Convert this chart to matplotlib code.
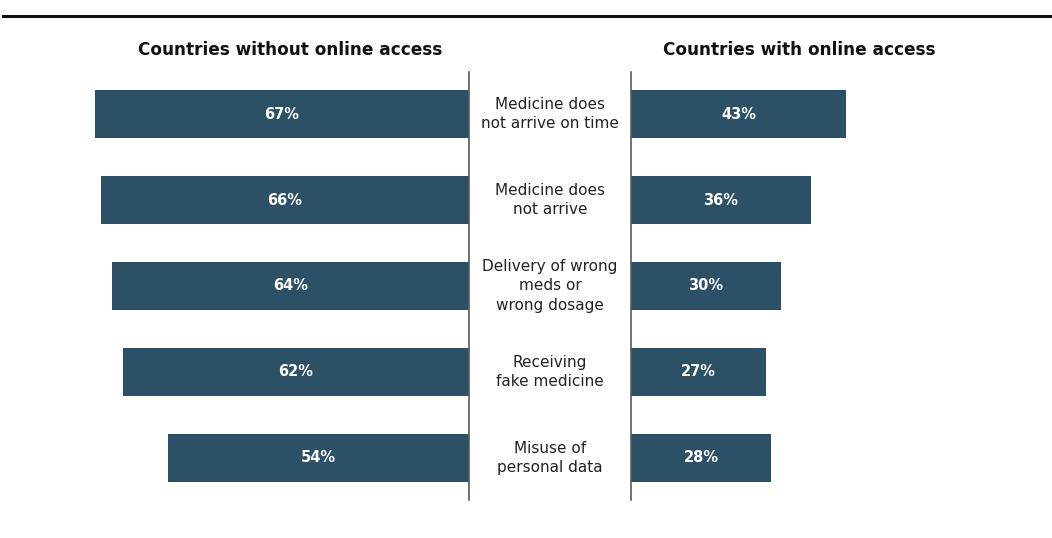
import matplotlib.pyplot as plt
from matplotlib.lines import Line2D

categories = ['Medicine does\nnot arrive on time', 'Medicine does\nnot arrive',
              'Delivery of wrong\nmeds or\nwrong dosage', 'Receiving\nfake medicine',
              'Misuse of\npersonal data']
without_online = [67, 66, 64, 62, 54]
with_online = [43, 36, 30, 27, 28]

bar_color = '#2c5066'
spine_color = '#595959'

plt.rcParams['font.family'] = 'DejaVu Sans'

W, H = 1052, 538
fig = plt.figure(figsize=(W / 100, H / 100), dpi=100)

# pixel layout
y_top, y_bot = 72, 500
left_x0, left_x1 = 40, 469
right_x0, right_x1 = 631, 1020
left_scale = 5.58   # px per %
right_scale = 5.0

ax_l = fig.add_axes([left_x0 / W, 1 - y_bot / H, (left_x1 - left_x0) / W, (y_bot - y_top) / H])
ax_r = fig.add_axes([right_x0 / W, 1 - y_bot / H, (right_x1 - right_x0) / W, (y_bot - y_top) / H])

ypos = list(range(len(categories)))
ax_l.barh(ypos, without_online, height=0.55, color=bar_color)
ax_r.barh(ypos, with_online, height=0.55, color=bar_color)

ax_l.set_xlim((left_x1 - left_x0) / left_scale, 0)
ax_r.set_xlim(0, (right_x1 - right_x0) / right_scale)
for ax in (ax_l, ax_r):
    ax.set_ylim(4.49, -0.49)
    ax.set_xticks([])
    ax.set_yticks([])
    for s in ax.spines.values():
        s.set_visible(False)
ax_l.spines['right'].set_visible(True)
ax_l.spines['right'].set_color(spine_color)
ax_l.spines['right'].set_linewidth(1.2)
ax_r.spines['left'].set_visible(True)
ax_r.spines['left'].set_color(spine_color)
ax_r.spines['left'].set_linewidth(1.2)

for y, v in zip(ypos, without_online):
    ax_l.text(v / 2, y, f'{v}%', ha='center', va='center', color='white',
              fontsize=10.5, fontweight='bold')
for y, v in zip(ypos, with_online):
    ax_r.text(v / 2, y, f'{v}%', ha='center', va='center', color='white',
              fontsize=10.5, fontweight='bold')

# category labels in the gap between the two panels
mid_x = (left_x1 + right_x0) / 2
for y, c in zip(ypos, categories):
    ax_r.annotate(c, xy=(0, y), xycoords=('axes fraction', 'data'),
                  xytext=(-(right_x0 - mid_x) * 72 / 100, 0), textcoords='offset points',
                  ha='center', va='center', fontsize=11, color='#222222',
                  linespacing=1.35)

fig.text(290 / W, 1 - 50 / H, 'Countries without online access', ha='center', va='center',
         fontsize=12.2, fontweight='bold', color='#111111')
fig.text(799 / W, 1 - 50 / H, 'Countries with online access', ha='center', va='center',
         fontsize=12.2, fontweight='bold', color='#111111')

fig.add_artist(Line2D([0.003, 1], [1 - 16 / H, 1 - 16 / H], transform=fig.transFigure,
                      color='#111111', linewidth=2.2))

fig.savefig('out.png', dpi=100)
